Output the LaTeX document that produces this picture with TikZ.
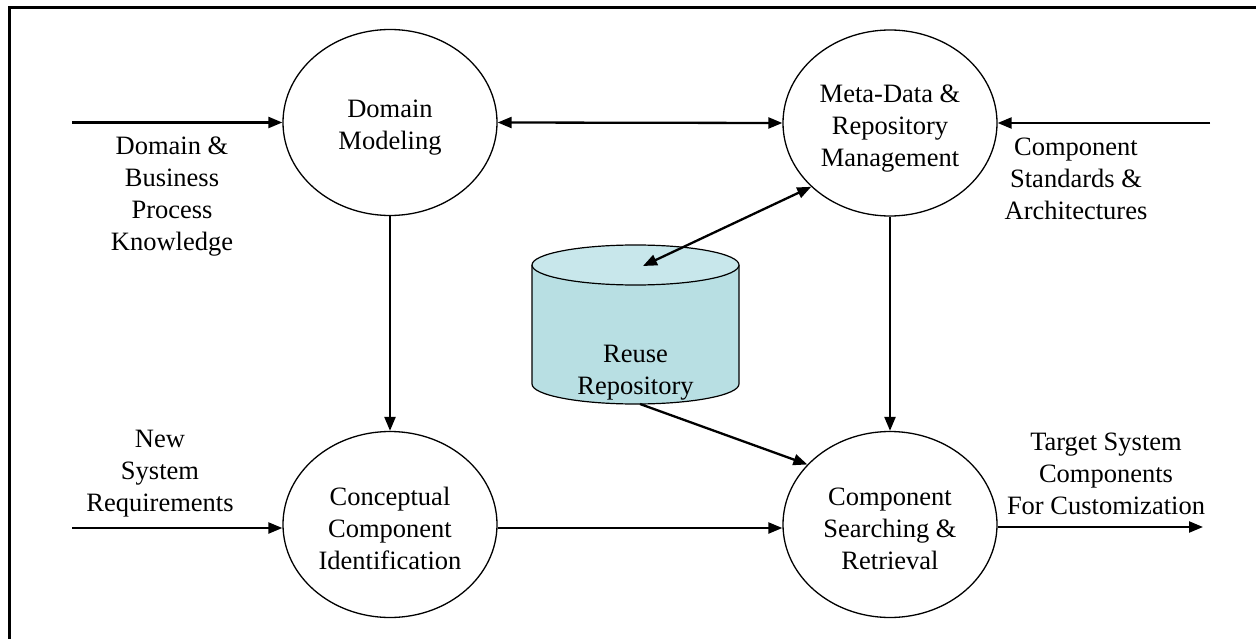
\documentclass[tikz,border=0pt]{standalone}
\usepackage{fontspec}
\setmainfont{Liberation Serif}
\usetikzlibrary{shapes.geometric,arrows.meta}
\definecolor{cylbody}{RGB}{184,223,227}
\definecolor{cyltop}{RGB}{200,231,235}
\tikzset{
  txt/.style={align=center,font=\fontsize{26.5}{32}\selectfont,inner sep=0pt},
  proc/.style={ellipse,draw,line width=1.3pt,minimum width=214pt,minimum height=186pt,inner sep=0pt},
  lbl/.style={txt},
  flow/.style={line width=2.3pt,-{Triangle[length=14pt,width=11pt]}},
  bflow/.style={line width=2.3pt,{Triangle[length=14pt,width=11pt]}-{Triangle[length=14pt,width=11pt]}},
}
\begin{document}
\begin{tikzpicture}[x=1pt,y=-1pt]
\useasboundingbox (0,0) rectangle (1256,639);
% frame (only top and left edges visible)
\draw[line width=2.5pt] (9.5,660) -- (9.5,7.5) -- (1270,7.5);

% processes
\node[proc,label={[txt,yshift=-5.5pt]center:{Domain\\Modeling}}] (dm) at (390,122.5) {};
\node[proc,label={[txt,yshift=-5.5pt]center:{Meta-Data \&\\Repository\\Management}}] (md) at (890,123) {};
\node[proc,label={[txt,yshift=-4pt]center:{Conceptual\\Component\\Identification}}] (cc) at (390,524.5) {};
\node[proc,label={[txt,yshift=-4pt]center:{Component\\Searching \&\\Retrieval}}] (cs) at (890,524.5) {};

% repository cylinder
\fill[cylbody] (532,265) -- (532,384) arc[start angle=180,end angle=0,x radius=103.5,y radius=20] -- (739,265) -- cycle;
\draw[line width=1.2pt] (532,265) -- (532,384) arc[start angle=180,end angle=0,x radius=103.5,y radius=20] -- (739,265);
\draw[line width=1.2pt,fill=cyltop] (635.5,265) ellipse[x radius=103.5,y radius=20];
\node[lbl] (rr) at (635.5,373) {Reuse\\Repository};
\coordinate (rtop) at (643,266);
\coordinate (rbot) at (640,404);

% external inputs / outputs
\coordinate (in1) at (72,122.5);
\coordinate (in2) at (1210,123);
\coordinate (in3) at (72,528);
\coordinate (out1) at (1203,527);

\draw[flow] (in1) -- (dm.west);
\draw[flow] (in2) -- (md.east);
\draw[flow] (in3) -- (cc.west |- in3);
\draw[flow] (cs.east |- out1) -- (out1);

\draw[bflow] (dm.east) -- (md.west);
\draw[flow] (dm.south) -- (cc.north);
\draw[flow] (md.south) -- (cs.north);
\draw[flow] (cc.east |- in3) -- (cs.west |- in3);
\draw[bflow] (rtop) -- (md.-141);
\draw[flow] (rbot) -- (cs.144);

% labels
\node[lbl] (l1) at (172,196.5) {Domain \&\\Business\\Process\\Knowledge};
\node[lbl] (l2) at (1076,179) {Component\\Standards \&\\Architectures};
\node[lbl] (l3) at (160,474) {New\\System\\Requirements};
\node[lbl] (l4) at (1106,474) {Target System\\Components\\For Customization};
\end{tikzpicture}
\end{document}
